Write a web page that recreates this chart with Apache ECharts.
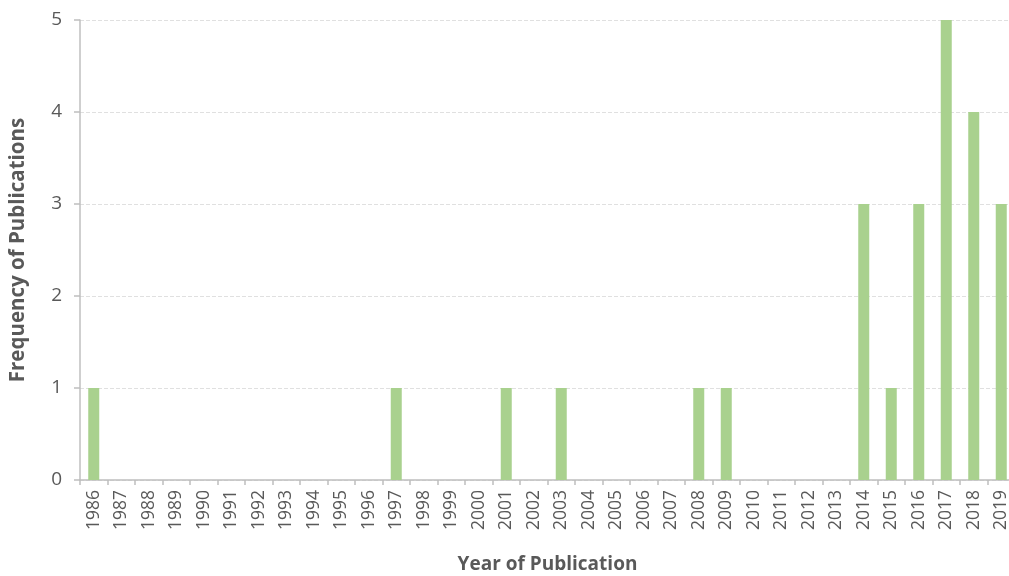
<!DOCTYPE html>
<html><head><meta charset="utf-8">
<script src="https://cdn.jsdelivr.net/npm/echarts@6/dist/echarts.min.js"></script>
<style>html,body{margin:0;padding:0;background:#fff}#c{width:1009px;height:576px}</style>
</head><body><div id="c"></div>
<script>
const years = ['1986','1987','1988','1989','1990','1991','1992','1993','1994','1995','1996','1997','1998','1999','2000','2001','2002','2003','2004','2005','2006','2007','2008','2009','2010','2011','2012','2013','2014','2015','2016','2017','2018','2019'];
const frequency = [1,0,0,0,0,0,0,0,0,0,0,1,0,0,0,1,0,1,0,0,0,0,1,1,0,0,0,0,3,1,3,5,4,3];
const yTicks = [0,1,2,3,4,5];

const chart = echarts.init(document.getElementById('c'));
chart.setOption({
  animation: false,
  grid: {left: 80, top: 20, width: 935, height: 460, containLabel: false, outerBoundsMode: 'none'},
  xAxis: {
    type: 'category', data: years,
    name: 'Year of Publication', nameLocation: 'middle', nameGap: 75, nameMoveOverlap: false,
    nameTextStyle: {fontFamily: 'Open Sans', fontWeight: 'bold', fontSize: 19, color: '#595959'},
    axisLine: {lineStyle: {color: '#bfbfbf', width: 1.5}},
    axisTick: {show: true, alignWithLabel: false, length: 5, lineStyle: {color: '#bfbfbf', width: 1.5}},
    axisLabel: {rotate: 90, interval: 0, fontFamily: 'Open Sans', fontSize: 17.5, color: '#595959', margin: 10}
  },
  yAxis: {
    type: 'value', min: yTicks[0], max: yTicks[yTicks.length-1], interval: 1,
    name: 'Frequency of Publications', nameLocation: 'middle', nameGap: 51, nameMoveOverlap: false,
    nameTextStyle: {fontFamily: 'Open Sans', fontWeight: 'bold', fontSize: 20.5, color: '#595959'},
    axisLine: {show: true, lineStyle: {color: '#bfbfbf', width: 1.5}},
    axisTick: {show: true, length: 6, lineStyle: {color: '#bfbfbf', width: 1.5}},
    axisLabel: {fontFamily: 'Open Sans', fontSize: 19, color: '#595959', margin: 18},
    splitLine: {lineStyle: {color: '#e0e0e0', type: 'dashed', width: 1}}
  },
  series: [{
    type: 'bar', data: frequency, barWidth: '40%',
    itemStyle: {color: '#a9d18e'}
  }]
});
</script></body></html>
